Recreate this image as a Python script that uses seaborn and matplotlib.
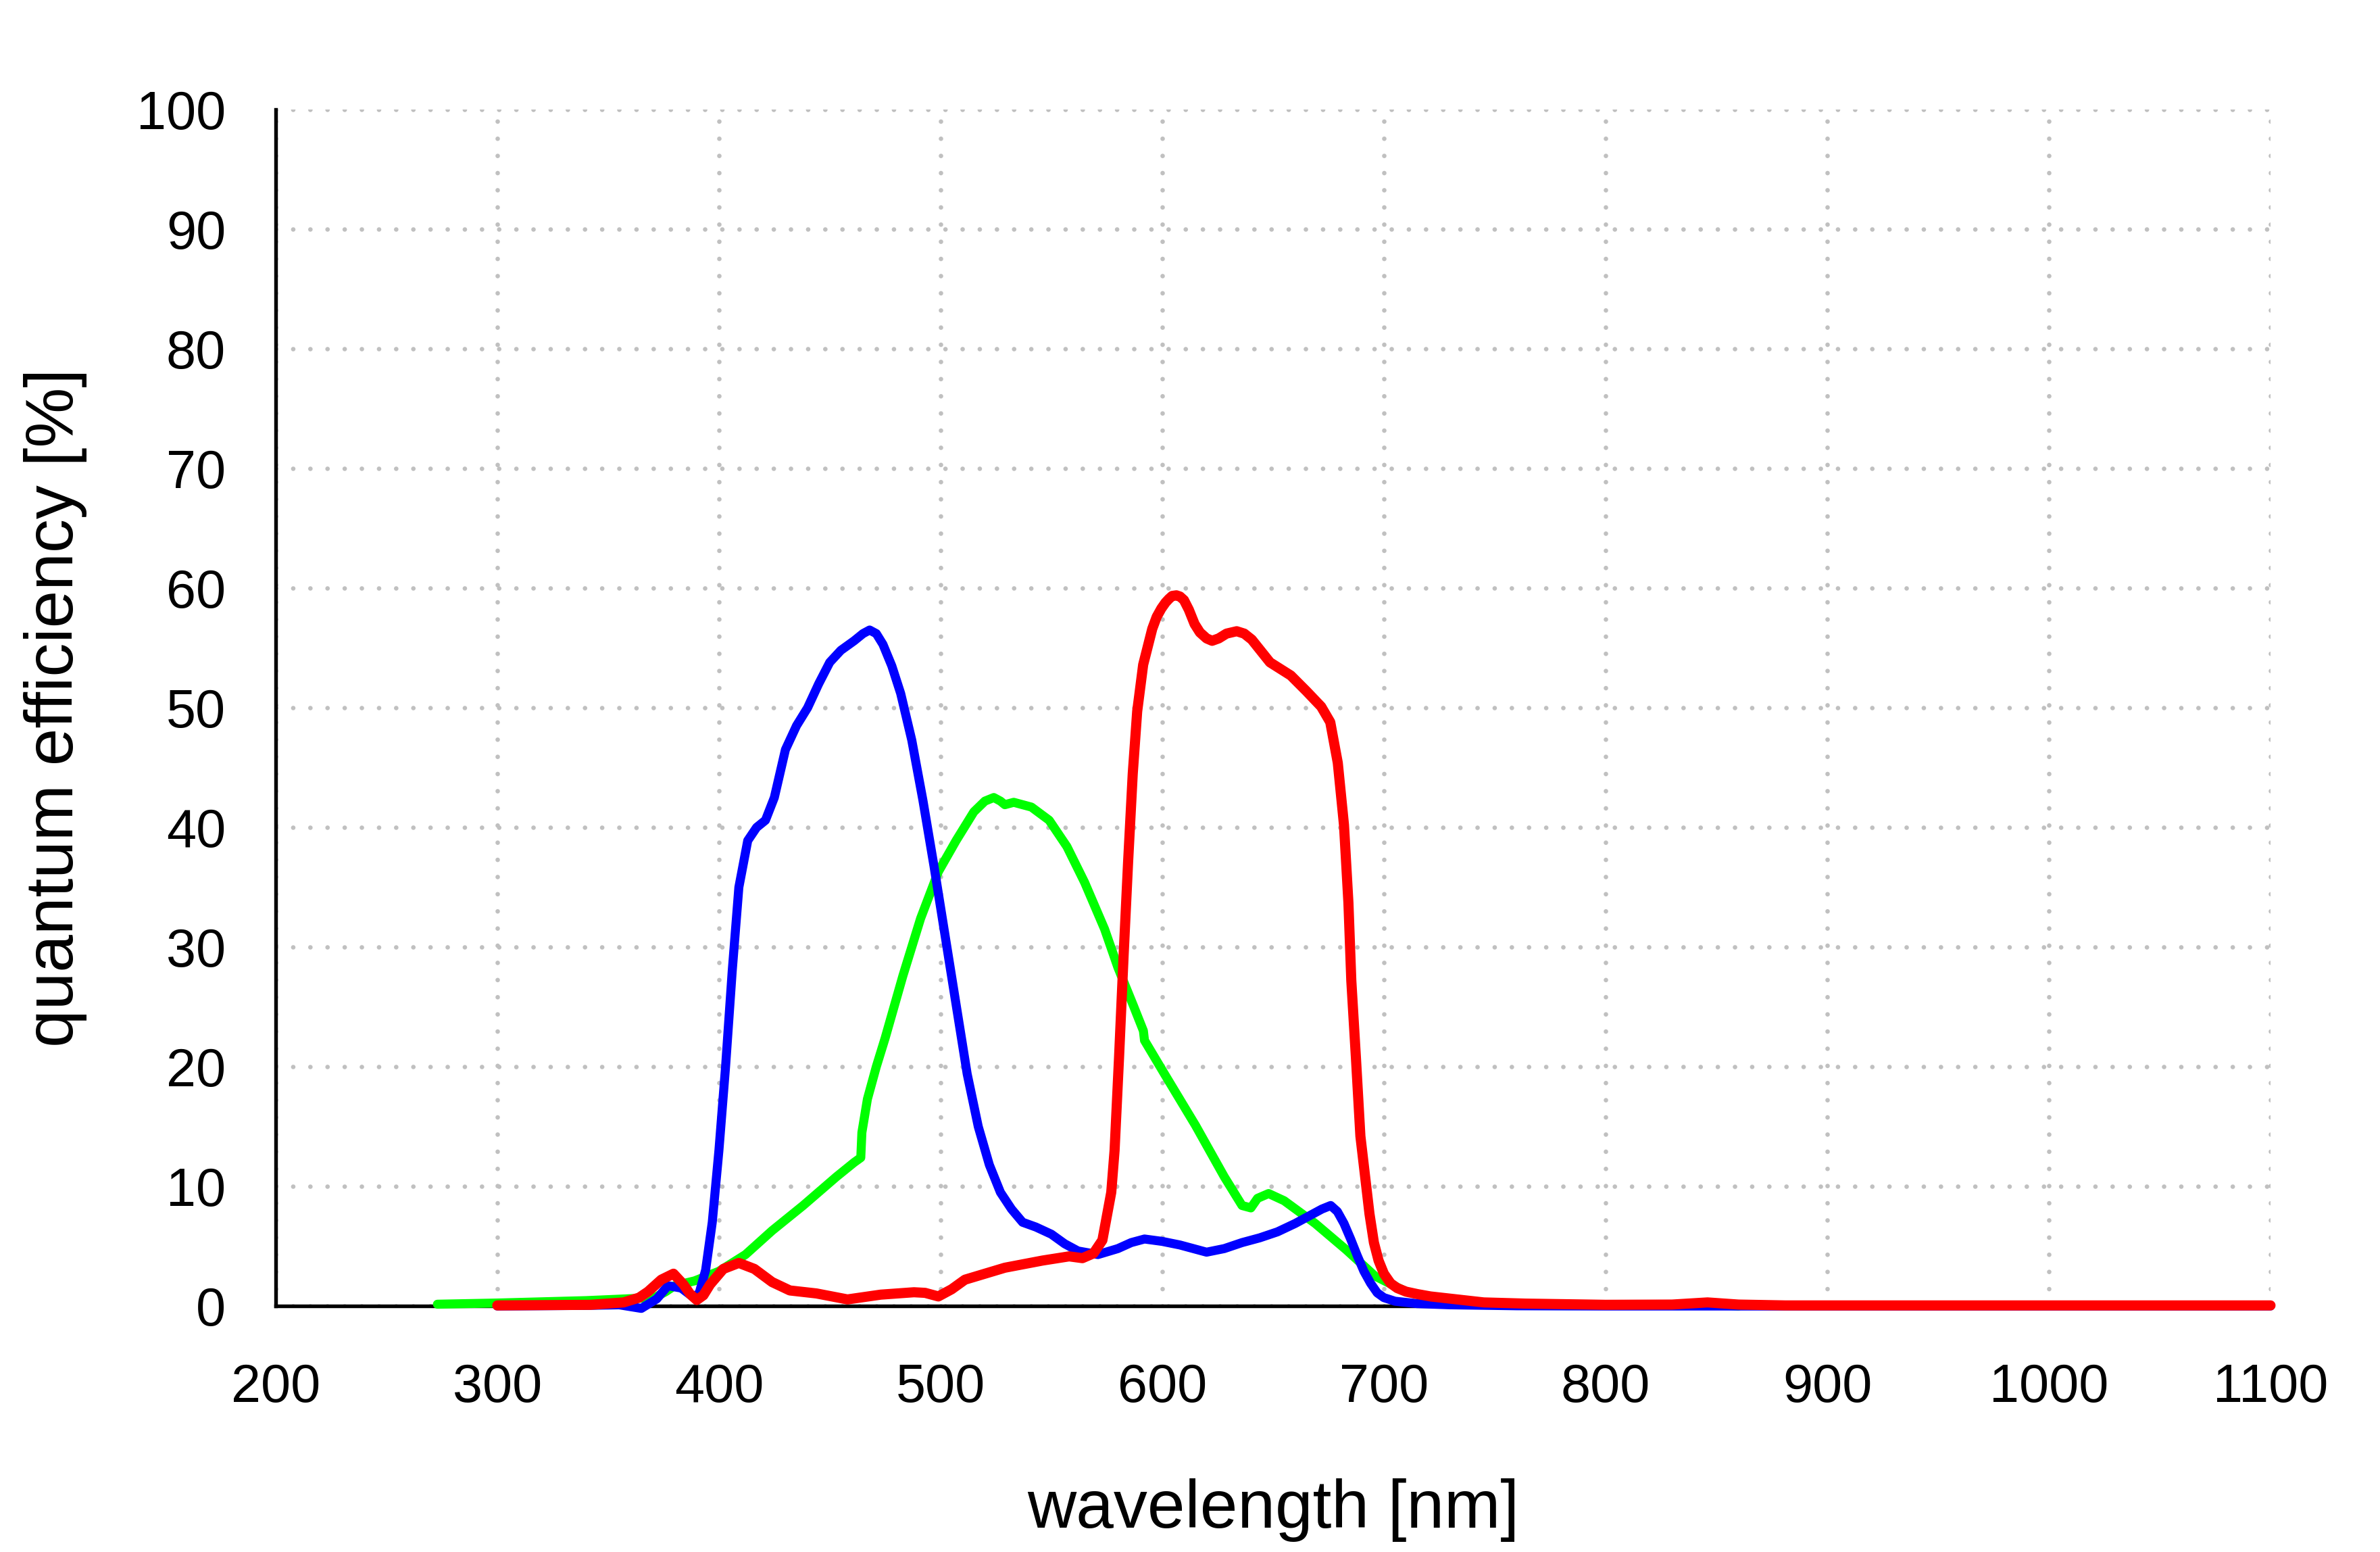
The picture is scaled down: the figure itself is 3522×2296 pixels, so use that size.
import pandas as pd
import matplotlib.pyplot as plt
import seaborn as sns

# spectral response (wavelength nm, QE %)
blue_wl = [300, 340, 355, 365, 372, 377, 383, 388, 391, 394, 397, 400, 403, 406, 409,
           413, 417, 421, 425, 430, 435, 440, 445, 450, 455, 458, 461, 465, 468, 471, 474,
           478, 482, 487, 492, 497, 502, 507, 512, 517, 522, 527, 532, 537, 543, 550,
           556, 562, 571, 580, 586, 592, 600, 608, 614, 620, 628, 636, 644, 652, 660,
           666, 672, 676, 679, 682, 685, 688, 691, 694, 697, 700, 705, 715, 730, 760,
           800, 900, 1000, 1100]
blue_qe = [0.0, 0.05, 0.1, -0.2, 0.6, 1.7, 1.5, 0.8, 1.0, 3.0, 7.0, 13.0, 20.0, 28.0, 35.0,
           38.9, 40.0, 40.6, 42.5, 46.5, 48.5, 50.0, 52.0, 53.8, 54.8, 55.2, 55.6, 56.2, 56.5, 56.2, 55.3,
           53.5, 51.2, 47.3, 42.3, 36.8, 31.0, 25.2, 19.4, 15.0, 11.8, 9.5, 8.1, 7.0, 6.6, 6.0,
           5.2, 4.6, 4.3, 4.8, 5.3, 5.6, 5.4, 5.1, 4.8, 4.5, 4.8, 5.3, 5.7, 6.2, 6.9,
           7.5, 8.1, 8.4, 7.9, 6.9, 5.6, 4.2, 2.9, 1.9, 1.1, 0.7, 0.4, 0.2, 0.1, 0.02,
           0.0, 0.0, 0.0, 0.0]

green_wl = [273, 300, 340, 371, 376, 380, 389, 400, 412, 424, 438, 453, 461, 464, 464.5,
            467, 471, 475, 483, 491, 499, 507, 515, 520, 524, 527, 529, 533, 541, 549,
            557, 565, 574, 580, 587, 591.5, 592, 601, 615, 628, 636, 640, 643, 648, 655,
            669, 683, 696, 710, 724, 745, 780, 830, 848, 860]
green_qe = [0.15, 0.25, 0.45, 0.7, 1.2, 1.7, 2.1, 2.9, 4.3, 6.3, 8.4, 10.8, 12.0, 12.4, 14.5,
            17.3, 20.0, 22.4, 27.6, 32.4, 36.3, 38.9, 41.3, 42.2, 42.5, 42.2, 41.9, 42.1, 41.7, 40.6,
            38.4, 35.4, 31.5, 28.3, 25.1, 23.0, 22.2, 19.4, 15.1, 10.8, 8.4, 8.2, 9.0, 9.4, 8.8,
            6.9, 4.7, 2.5, 1.2, 0.6, 0.15, 0.08, 0.05, 0.15, 0.0]

red_wl = [300, 342, 357, 364, 368, 374, 379.5, 384, 387, 390, 393, 396, 402, 409, 416,
          424, 432, 444, 458, 473, 488, 493, 499, 505, 511, 520, 529, 546, 558, 564,
          569, 573, 577, 578.5, 580.5, 582.6, 584.6, 586.7, 588.7, 591.4, 595.5, 597.5, 599.6,
          601.5, 603, 604.5, 606.4, 608, 609.8, 612, 614.6, 617, 620, 622.5, 625.5, 629, 633.6,
          637, 640.4, 648.6, 658, 665, 671.7, 675.8, 679.2, 682, 684, 685.3,
          687.4, 689.4, 693.5, 695.5, 697.6, 700, 703, 706, 710, 715, 721, 745, 764, 800,
          830, 846, 860, 881, 1100]
red_qe = [0.05, 0.1, 0.3, 0.7, 1.2, 2.2, 2.7, 1.8, 1.0, 0.5, 0.9, 1.8, 3.1, 3.6, 3.1,
          2.0, 1.3, 1.05, 0.55, 0.95, 1.15, 1.1, 0.8, 1.4, 2.2, 2.7, 3.2, 3.8, 4.15, 4.0,
          4.4, 5.5, 9.5, 13.0, 20.7, 29.4, 37.1, 44.5, 49.7, 53.6, 56.6, 57.6, 58.3,
          58.8, 59.1, 59.35, 59.4, 59.3, 59.0, 58.2, 57.0, 56.3, 55.8, 55.6, 55.8, 56.2, 56.4,
          56.2, 55.7, 53.8, 52.7, 51.4, 50.1, 48.8, 45.4, 40.2, 33.7, 27.2,
          20.7, 14.2, 7.7, 5.3, 3.8, 2.7, 1.9, 1.5, 1.2, 1.0, 0.8, 0.3, 0.2, 0.1,
          0.12, 0.3, 0.12, 0.05, 0.05]

x_ticks = list(range(200, 1101, 100))
y_ticks = list(range(0, 101, 10))

sns.set_style("white")
plt.rcParams['font.family'] = ['Liberation Sans', 'DejaVu Sans']
plt.rcParams['lines.dash_capstyle'] = 'round'
plt.rcParams['text.color'] = 'black'
plt.rcParams['axes.labelcolor'] = 'black'
plt.rcParams['xtick.color'] = 'black'
plt.rcParams['ytick.color'] = 'black'

fig = plt.figure(figsize=(3522 / 300, 2296 / 300), dpi=300)
ax = fig.add_axes([0.1158, 0.1585, 0.8382, 0.7709])

sns.lineplot(x=green_wl, y=green_qe, color='#00ff00', lw=3.2, sort=False, ax=ax,
             solid_capstyle='round', solid_joinstyle='round', clip_on=False, zorder=3)
sns.lineplot(x=blue_wl, y=blue_qe, color='#0000ff', lw=3.2, sort=False, ax=ax,
             solid_capstyle='round', solid_joinstyle='round', clip_on=False, zorder=3)
sns.lineplot(x=red_wl, y=red_qe, color='#ff0000', lw=3.6, sort=False, ax=ax,
             solid_capstyle='round', solid_joinstyle='round', clip_on=False, zorder=3)

ax.set_xlim(200, 1100)
ax.set_ylim(0, 100)
ax.set_xticks(x_ticks)
ax.set_yticks(y_ticks)
ax.grid(True, color='#c0c0c0', linestyle=(0, (0.01, 3.8)), linewidth=1.6)

for s in ['top', 'right']:
    ax.spines[s].set_visible(False)
for s in ['left', 'bottom']:
    ax.spines[s].set_color('black')
    ax.spines[s].set_linewidth(1.3)

ax.tick_params(direction='out', length=7.2, width=1.3, color='black', labelsize=19)
ax.tick_params(axis='x', pad=13)
ax.tick_params(axis='y', pad=10.5)

ax.set_xlabel('wavelength [nm]', fontsize=24)
ax.xaxis.set_label_coords(0.5, -0.1853)
ax.xaxis.label.set_va('baseline')
ax.set_ylabel('quantum efficiency [%]', fontsize=24)
ax.yaxis.set_label_coords(-0.1016, 0.5)
ax.yaxis.label.set_va('baseline')

plt.savefig('out.png', dpi=300)
